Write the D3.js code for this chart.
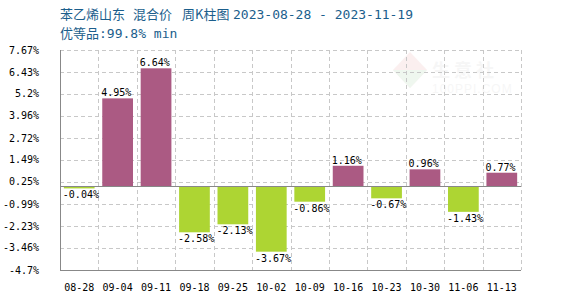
<!DOCTYPE html>
<html><head><meta charset="utf-8">
<script src="https://cdn.jsdelivr.net/npm/d3@7"></script>
<style>body{margin:0;background:#fff}svg{display:block}</style>
</head><body>
<svg id="c" width="570" height="300"></svg>
<script>
const categories = ["08-28","09-04","09-11","09-18","09-25","10-02","10-09","10-16","10-23","10-30","11-06","11-13"];
const values = [-0.04,4.95,6.64,-2.58,-2.13,-3.67,-0.86,1.16,-0.67,0.96,-1.43,0.77];
const yTicks = [7.67,6.43,5.2,3.96,2.72,1.49,0.25,-0.99,-2.23,-3.46,-4.7];
const titleParts = ["苯乙烯山东", "混合价", "周K柱图"];
const titleDates = "2023-08-28 - 2023-11-19";
const subtitle = "优等品";
const subtitleSpec = ":99.8% min";

const svg = d3.select("#c");
const L = 60, R = 521, T = 50, B = 270;
const mono = "'DejaVu Sans Mono', monospace";
const cjk = "'Noto Sans CJK SC', sans-serif";
const x = d3.scaleBand().domain(categories).range([L, R]);
const y = d3.scaleLinear().domain([-4.7, 7.67]).range([B, T]);

// watermark
const wm = svg.append("g").attr("opacity", 0.07);
wm.append("path").attr("d", "M410,52 L427,70 L410,88 L393,70 Z").attr("fill", "#c33");
wm.append("path").attr("d", "M393,70 L427,70 L410,88 Z").attr("fill", "#393");
wm.append("text").attr("x", 432).attr("y", 77).attr("font-family", cjk).attr("font-size", 18).attr("font-weight", "bold").attr("letter-spacing", 4).attr("fill", "#888").text("生意社");
wm.append("text").attr("x", 432).attr("y", 93).attr("font-family", "Arial, sans-serif").attr("font-size", 12).attr("fill", "#888").attr("letter-spacing", 1).text("100PPI.COM");

// grid
const grid = svg.append("g").attr("stroke", "#c8c8c8").attr("stroke-dasharray", "4,3").attr("stroke-width", 1);
yTicks.forEach(t => {
  const yy = Math.round(y(t)) + 0.5;
  grid.append("line").attr("x1", L).attr("x2", R).attr("y1", yy).attr("y2", yy);
});
categories.forEach((c, i) => {
  const xx = Math.round(x(c) + x.bandwidth()) + 0.5;
  grid.append("line").attr("x1", xx).attr("x2", xx).attr("y1", T).attr("y2", B);
});

// y labels
svg.append("g").selectAll("text").data(yTicks).join("text")
  .attr("x", 39).attr("y", d => y(d) + 3.5).attr("text-anchor", "end")
  .attr("font-family", mono).attr("font-size", 10).attr("fill", "#000")
  .text(d => d + "%");

// bars
const bw = x.bandwidth();
svg.append("g").selectAll("rect").data(values).join("rect")
  .attr("x", (d, i) => x(categories[i]) + bw * 0.1)
  .attr("width", bw * 0.8)
  .attr("y", d => y(Math.max(0, d)))
  .attr("height", d => Math.max(2, Math.abs(y(d) - y(0))))
  .attr("fill", d => d >= 0 ? "#ab5a83" : "#add533");

// zero line
svg.append("line").attr("x1", L).attr("x2", R).attr("y1", Math.round(y(0)) + 0.5).attr("y2", Math.round(y(0)) + 0.5).attr("stroke", "#888");

// axes
svg.append("line").attr("x1", L + 0.5).attr("x2", L + 0.5).attr("y1", T).attr("y2", B).attr("stroke", "#888");
svg.append("line").attr("x1", L).attr("x2", R).attr("y1", B + 0.5).attr("y2", B + 0.5).attr("stroke", "#888");

// value labels
svg.append("g").selectAll("text").data(values).join("text")
  .attr("x", (d, i) => x(categories[i]) + bw * 0.1 - 1)
  .attr("y", d => d >= 0 ? y(d) - 2 : Math.max(y(d), y(0) + 2) + 10)
  .attr("font-family", mono).attr("font-size", 10).attr("fill", "#000")
  .text(d => d.toFixed(2) + "%");

// x labels
svg.append("g").selectAll("text").data(categories).join("text")
  .attr("x", d => x(d) + bw / 2).attr("y", 291).attr("text-anchor", "middle")
  .attr("font-family", mono).attr("font-size", 10).attr("fill", "#000")
  .text(d => d);

// titles
const tc = "#1b5e8c";
const tx = [60, 133, 182];
titleParts.forEach((p, i) => {
  svg.append("text").attr("x", tx[i]).attr("y", 19).attr("font-size", 13).attr("fill", tc).attr("font-family", cjk).text(p);
});
svg.append("text").attr("x", 233).attr("y", 19).attr("font-size", 13).attr("fill", tc).attr("font-family", mono).text(titleDates);
const t2 = svg.append("text").attr("x", 60).attr("y", 38).attr("font-size", 13).attr("fill", tc);
t2.append("tspan").attr("font-family", cjk).text(subtitle);
t2.append("tspan").attr("font-family", mono).text(subtitleSpec);
</script>
</body></html>
